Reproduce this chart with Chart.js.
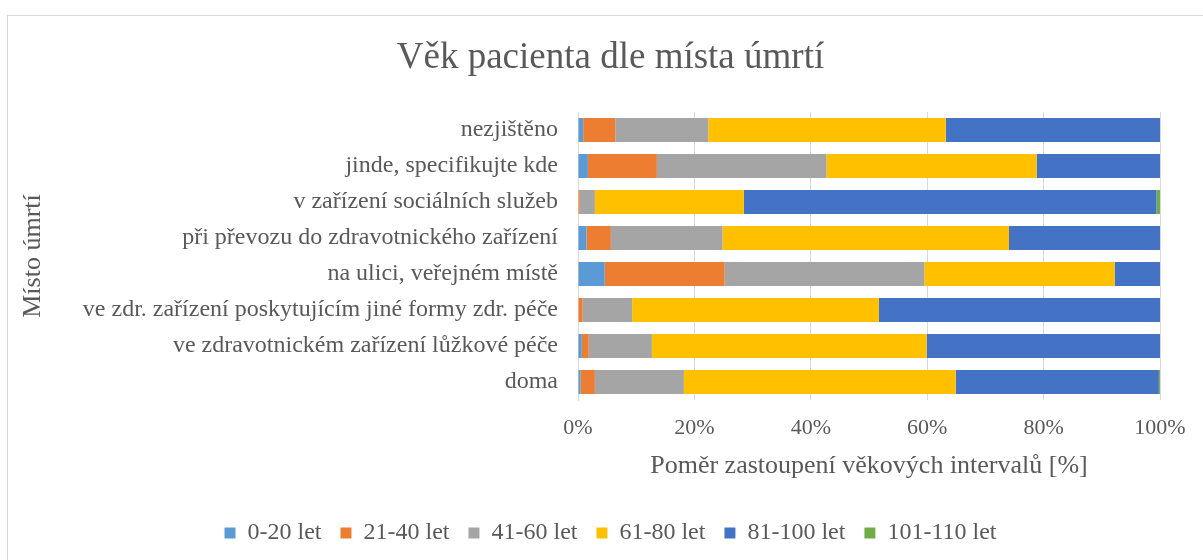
<!DOCTYPE html>
<html>
<head>
<meta charset="utf-8">
<script src="https://cdn.jsdelivr.net/npm/chart.js"></script>
<style>
  body { margin: 0; background: #fff; }
</style>
</head>
<body>
<canvas id="age_chart" width="1203" height="560"></canvas>
<script>
const places = [
  "nezjištěno",
  "jinde, specifikujte kde",
  "v zařízení sociálních služeb",
  "při převozu do zdravotnického zařízení",
  "na ulici, veřejném místě",
  "ve zdr. zařízení poskytujícím jiné formy zdr. péče",
  "ve zdravotnickém zařízení lůžkové péče",
  "doma"
];

const groups = ["0-20 let", "21-40 let", "41-60 let", "61-80 let", "81-100 let", "101-110 let"];
const colors = ["#5B9BD5", "#ED7D31", "#A5A5A5", "#FFC000", "#4472C4", "#70AD47"];

// share of each age group, % per place (same order as places)
const age0_20    = [0.9, 1.7, 0, 1.45, 4.6, 0.1, 0.65, 0.45];
const age21_40   = [5.5, 11.85, 0.3, 4.2, 20.6, 0.7, 1.2, 2.45];
const age41_60   = [16.0, 29.15, 2.6, 19.2, 34.3, 8.5, 10.85, 15.3];
const age61_80   = [40.8, 36.1, 25.6, 49.2, 32.7, 42.4, 47.2, 46.7];
const age81_100  = [36.8, 21.2, 70.9, 25.95, 7.8, 48.3, 40.1, 34.9];
const age101_110 = [0, 0, 0.6, 0, 0, 0, 0, 0.2];

const series = [age0_20, age21_40, age41_60, age61_80, age81_100, age101_110];

const textColor = "#595959";
const gridColor = "#d9d9d9";
const serif = "'Liberation Serif', 'Times New Roman', serif";

// thin frame like the Excel chart object
const frame = {
  id: "frame",
  beforeDraw(chart) {
    const ctx = chart.ctx;
    ctx.save();
    ctx.strokeStyle = gridColor;
    ctx.lineWidth = 1;
    ctx.strokeRect(7.5, 15.5, 1300, 700);
    ctx.restore();
  }
};

const config = {
  type: "bar",
  data: {
    labels: places,
    datasets: series.map((vals, i) => ({
      label: groups[i],
      data: vals,
      backgroundColor: colors[i],
      borderWidth: 0,
      barPercentage: 0.667,
      categoryPercentage: 1.0
    }))
  },
  options: {
    indexAxis: "y",
    responsive: false,
    animation: false,
    layout: { padding: { left: 18, right: 0, top: 16, bottom: 5 } },
    plugins: {
      tooltip: { enabled: false },
      title: {
        display: true,
        text: "Věk pacienta dle místa úmrtí",
        color: textColor,
        font: { family: serif, size: 37, weight: "normal" },
        padding: { top: 20, bottom: 31.6 }
      },
      legend: {
        position: "bottom",
        labels: {
          color: textColor,
          font: { family: serif, size: 24 },
          boxWidth: 11,
          boxHeight: 11,
          padding: 19
        }
      }
    },
    scales: {
      x: {
        stacked: true,
        min: 0,
        max: 100,
        ticks: {
          stepSize: 20,
          color: textColor,
          font: { family: serif, size: 22 },
          padding: 15,
          callback: v => v + "%"
        },
        grid: { color: gridColor, drawTicks: false },
        border: { display: false },
        title: {
          display: true,
          text: "Poměr zastoupení věkových intervalů [%]",
          color: textColor,
          font: { family: serif, size: 26 },
          padding: { top: 4, bottom: 20.4 }
        },
        afterFit(scale) { scale.height = 102; }
      },
      y: {
        stacked: true,
        ticks: {
          color: textColor,
          font: { family: serif, size: 24 },
          padding: 20
        },
        grid: { display: false, drawTicks: false },
        border: { display: true, color: gridColor, width: 1 },
        title: {
          display: true,
          text: "Místo úmrtí",
          color: textColor,
          font: { family: serif, size: 26 },
          padding: { top: 0, bottom: 0 }
        },
        afterFit(scale) { scale.width = 560; }
      },
      // empty spacer on the right so the plot ends where the original does
      spacer: {
        type: "linear",
        position: "right",
        display: true,
        grid: { display: false },
        border: { display: false },
        ticks: { display: false },
        afterFit(scale) { scale.width = 43; }
      }
    }
  },
  plugins: [frame]
};

const age_chart = new Chart(document.getElementById("age_chart"), config);
</script>
</body>
</html>
